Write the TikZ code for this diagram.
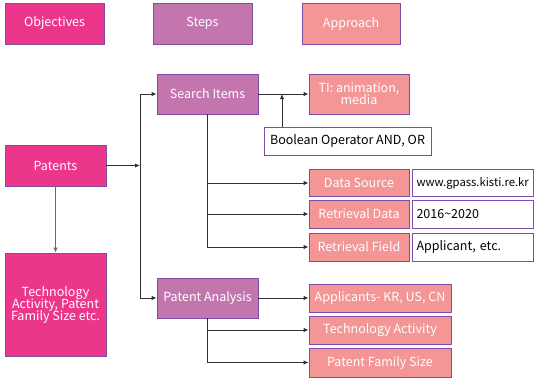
\documentclass[tikz,border=0pt]{standalone}
\usepackage{fontspec}
\setmainfont{Noto Sans CJK KR}
\usetikzlibrary{arrows.meta}
\definecolor{objcol}{HTML}{EC368C}
\definecolor{stepcol}{HTML}{C376AE}
\definecolor{appcol}{HTML}{F39695}
\definecolor{bordcol}{HTML}{7F4FA8}
\definecolor{linecol}{HTML}{303030}
\definecolor{greyline}{HTML}{6A6A6A}
\tikzset{
  box/.style={draw=bordcol, line width=0.8pt, text=white, inner sep=1pt,
    align=center, font=\fontsize{12.5}{14}\selectfont},
  objbox/.style={box, fill=objcol},
  stepbox/.style={box, fill=stepcol},
  appbox/.style={box, fill=appcol},
  valbox/.style={draw=bordcol, line width=0.8pt, fill=white, text=black,
    inner xsep=4pt, inner ysep=1pt, align=left,
    font=\fontsize{12.5}{14}\selectfont},
  conn/.style={draw=linecol, line width=1pt},
  arr/.style={conn, -{Latex[length=5pt,width=4.5pt]}},
}
\begin{document}
\begin{tikzpicture}[x=1pt, y=-1pt]
\useasboundingbox (0,0) rectangle (535,380);

% column headers
\node[objbox, minimum width=99pt, minimum height=41pt] (objectives) at (54.5,23.5) {Objectives};
\node[stepbox, minimum width=99pt, minimum height=41pt] (steps) at (202.5,23.5) {Steps};
\node[appbox, minimum width=98pt, minimum height=41pt] (approach) at (351,23.5) {Approach};

% objectives
\node[objbox, minimum width=101pt, minimum height=41pt] (patents) at (55.5,165.5) {Patents};
\node[objbox, minimum width=101pt, minimum height=103pt] (techsize) at (55.5,304.5)
  {Technology\\[-2pt]Activity, Patent\\[-2pt]Family Size etc.};

% steps
\node[stepbox, minimum width=101pt, minimum height=40pt] (search) at (207.5,94) {Search Items};
\node[stepbox, minimum width=101pt, minimum height=40pt] (analysis) at (207.5,298) {Patent Analysis};

% approach: search items
\node[appbox, minimum width=100pt, minimum height=40pt] (ti) at (359,94) {TI: animation,\\[-2pt]media};
\node[valbox, minimum width=167pt, minimum height=28pt, align=center] (boolean) at (347.5,141) {Boolean Operator AND, OR};

\node[appbox, minimum width=100pt, minimum height=27pt] (datasrc) at (359,183) {Data Source};
\node[appbox, minimum width=100pt, minimum height=28pt] (retdata) at (359,214) {Retrieval Data};
\node[appbox, minimum width=100pt, minimum height=28pt] (retfield) at (359,247) {Retrieval Field};

\node[valbox, text width=113pt, minimum height=27pt, font=\fontsize{11.3}{13}\selectfont] (datasrcval) at (473,183) {www.gpass.kisti.re.kr};
\node[valbox, text width=113pt, minimum height=28pt] (retdataval) at (473,214) {2016\textasciitilde2020};
\node[valbox, text width=113pt, minimum height=28pt] (retfieldval) at (473,247) {Applicant, etc.};

% approach: patent analysis
\node[appbox, minimum width=142pt, minimum height=28pt] (applicants) at (380,298) {Applicants- KR, US, CN};
\node[appbox, minimum width=142pt, minimum height=28pt] (techact) at (380,330) {Technology Activity};
\node[appbox, minimum width=142pt, minimum height=29pt] (famsize) at (380,362.5) {Patent Family Size};

% connectors
\coordinate (trunk) at (140,165.5);
\coordinate (join) at (282,94);
\draw[arr] (patents) -- (trunk);
\draw[arr] (trunk) |- (search);
\draw[arr] (trunk) |- (analysis);
\draw[arr, draw=greyline] (patents) -- (techsize);

\draw[arr] (search) -- (ti);
\draw[arr] (join |- boolean.north) -- (join);
\draw[arr] (search.south) |- (datasrc.west);
\draw[arr] (search.south) |- (retdata.west);
\draw[arr] (search.south) |- (retfield.west);

\draw[arr] (analysis) -- (applicants);
\draw[arr] (analysis.south) |- (techact.west);
\draw[arr] (analysis.south) |- (famsize.west);
\end{tikzpicture}
\end{document}
